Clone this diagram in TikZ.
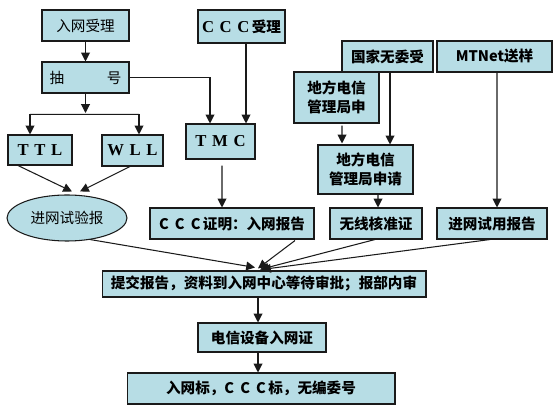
\documentclass[tikz,border=0pt]{standalone}
\usepackage{fontspec}
\setmainfont{Noto Sans CJK SC}
\newfontfamily\wideserif{Liberation Serif}
\usepackage{tikz}
\usetikzlibrary{arrows.meta,calc,shapes.geometric}
\definecolor{paleteal}{RGB}{183,221,229}
\definecolor{inkline}{HTML}{1A1A1A}
\newcommand{\spaced}[3]{{\wideserif\fontsize{9.5}{10.5}\selectfont\bfseries #1\kern3.2pt#2\kern3.2pt#3}}
\tikzset{
  flowbox/.style={
    rectangle, draw=inkline, fill=paleteal, line width=0.6pt,
    font=\fontsize{8.3}{10.5}\selectfont\bfseries, align=center, inner sep=1pt
  },
  plainbox/.style={
    flowbox, font=\fontsize{8.3}{10.5}\selectfont
  },
  ovalnode/.style={
    ellipse, draw=inkline, fill=paleteal, line width=0.6pt,
    font=\fontsize{8.3}{10.5}\selectfont, inner sep=0pt
  },
  flowarrow/.style={
    -{Triangle[length=5pt,width=5pt]}, line width=0.6pt, color=inkline
  },
}
\begin{document}
\begin{tikzpicture}[x=0.02cm,y=-0.02cm]
  \useasboundingbox (0,0) rectangle (560,411);

  % left column
  \node[plainbox, minimum width=1.74cm, minimum height=0.62cm] (ruwang) at (85.5,25.5) {入网受理};
  \node[plainbox, minimum width=1.74cm, minimum height=0.62cm, text width=1.44cm, align=left] (chouhao) at (85.5,77.5) {抽\hfill 号};
  \node[flowbox, minimum width=1.28cm, minimum height=0.6cm] (ttl) at (40,150) {\spaced{T}{T}{L}};
  \node[flowbox, minimum width=1.22cm, minimum height=0.62cm] (wll) at (132.5,150.5) {\spaced{W}{L}{L}};
  \node[ovalnode, minimum width=2.4cm, minimum height=0.92cm] (oval) at (67,218) {进网试验报};

  % CCC column
  \node[flowbox, minimum width=1.74cm, minimum height=0.66cm] (cccsl) at (241.5,26.5) {\spaced{C}{C}{C}\,受理};
  \node[flowbox, minimum width=1.38cm, minimum height=0.7cm] (tmc) at (220.5,141.5) {\spaced{T}{M}{C}};
  \node[flowbox, minimum width=3.28cm, minimum height=0.62cm] (cccz) at (232,223.5) {C\kern3.5pt C\kern3.5pt C\,证明：入网报告};

  % radio column
  \node[flowbox, minimum width=1.82cm, minimum height=0.62cm] (guojia) at (387.5,56.5) {国家无委受};
  \node[flowbox, minimum width=1.7cm, minimum height=1.02cm] (difang) at (336.5,97.5) {地方电信\\管理局申};
  \node[flowbox, minimum width=1.9cm, minimum height=0.98cm] (shenqing) at (365.5,169.5) {地方电信\\管理局申请};
  \node[flowbox, minimum width=1.84cm, minimum height=0.62cm] (wxhz) at (376,223.5) {无线核准证};

  % MTNet column
  \node[flowbox, minimum width=2.3cm, minimum height=0.62cm] (mtnet) at (494.5,56.5) {MTNet送样};
  \node[flowbox, minimum width=2.2cm, minimum height=0.62cm] (shiyong) at (492,223.5) {进网试用报告};

  % bottom chain
  \node[flowbox, minimum width=6.48cm, minimum height=0.52cm] (tijiao) at (264,284) {提交报告，资料到入网中心等待审批；报部内审};
  \node[flowbox, minimum width=2.56cm, minimum height=0.58cm] (zheng) at (262,337.5) {电信设备入网证};
  \node[flowbox, minimum width=5.36cm, minimum height=0.62cm] (biao) at (261,388.5) {入网标，C\kern3.5pt C\kern3.5pt C\,标，无编委号};

  % arrows
  \coordinate (split) at (85.5,115);
  \draw[flowarrow] (ruwang) -- (chouhao);
  \draw[flowarrow] (chouhao) -- ($(split)+(0,-2)$);
  \draw[line width=0.6pt, color=inkline] ($(ttl.north)+(-10,-20)$) -- ($(wll.north)+(6.5,-20)$);
  \draw[flowarrow] ($(ttl.north)+(-10,-20)$) -- ($(ttl.north)+(-10,0)$);
  \draw[flowarrow] ($(wll.north)+(6.5,-20)$) -- ($(wll.north)+(6.5,0)$);
  \draw[flowarrow] (chouhao.east) -| ($(tmc.north)+(-10.5,0)$);
  \draw[flowarrow] ($(cccsl.south)+(4.5,0)$) -- ($(tmc.north)+(25.5,0)$);
  \draw[flowarrow] ($(ttl.south)+(-22,0)$) -- ($(oval.north)+(5,-3)$);
  \draw[flowarrow] ($(wll.south)+(-2.5,0)$) -- ($(oval.north)+(13,-3)$);
  \draw[flowarrow] ($(tmc.south)+(1.5,6)$) -- ($(cccz.north)+(-10,0)$);
  \draw[flowarrow] ($(guojia.south)+(2.5,0)$) -- ($(shenqing.north)+(24.5,0)$);
  \draw[flowarrow] ($(difang.south)+(5.5,2)$) -- ($(shenqing.north)+(-23.5,-1)$);
  \draw[flowarrow] ($(shenqing.south)+(12.5,0)$) -- ($(wxhz.north)+(2,0)$);
  \draw[flowarrow] ($(mtnet.south)+(2.5,0)$) -- ($(shiyong.north)+(5,0)$);
  \draw[flowarrow] ($(oval.south)+(23,-2)$) -- ($(tijiao.north)+(-9,-3)$);
  \draw[flowarrow] ($(cccz.south)+(63,1)$) -- ($(tijiao.north)+(-6,-2)$);
  \draw[flowarrow] ($(wxhz.south)+(-1,0)$) -- ($(tijiao.north)+(-4,-1)$);
  \draw[flowarrow] ($(shiyong.south)+(-2,0)$) -- ($(tijiao.north)+(-2,-1)$);
  \draw[flowarrow] ($(tijiao.south)+(-6,0)$) -- ($(zheng.north)+(-4,0)$);
  \draw[flowarrow] ($(zheng.south)+(-4,0)$) -- ($(biao.north)+(-3,0)$);
\end{tikzpicture}
\end{document}
